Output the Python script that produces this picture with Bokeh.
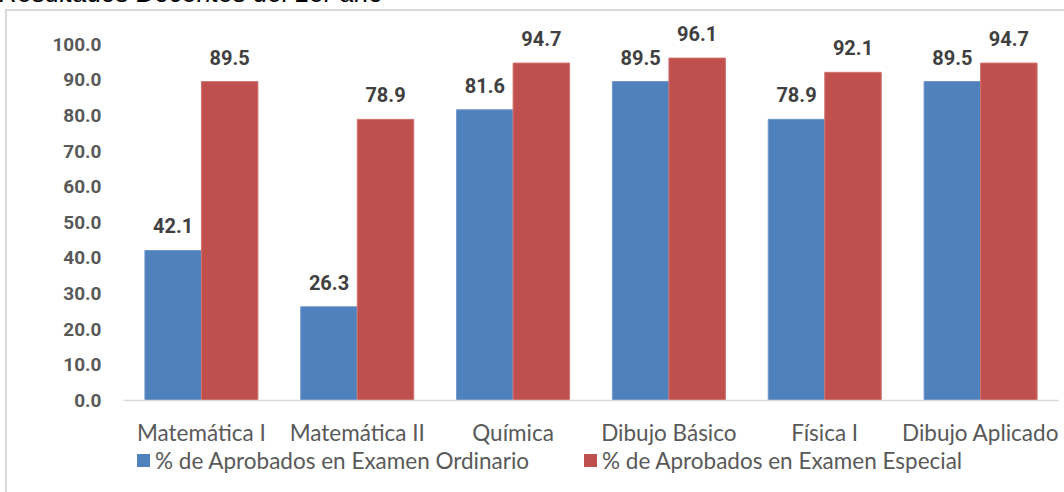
from bokeh.plotting import figure
from bokeh.layouts import column, row
from bokeh.models import (ColumnDataSource, Range1d, FactorRange,
                          FixedTicker, CustomJSTickFormatter, Div, Spacer)
from bokeh.transform import dodge
from bokeh.core.properties import value
from bokeh.embed import file_html
from bokeh.resources import INLINE

categories = ["Matemática I", "Matemática II", "Química", "Dibujo Básico", "Física I", "Dibujo Aplicado"]
ordinario = [42.1, 26.3, 81.6, 89.5, 78.9, 89.5]
especial = [89.5, 78.9, 94.7, 96.1, 92.1, 94.7]
y_ticks = [0, 10, 20, 30, 40, 50, 60, 70, 80, 90, 100]
series_names = ["% de Aprobados en Examen Ordinario", "% de Aprobados en Examen Especial"]
title_text = "Resultados Docentes del 1er año"

BLUE = "#4F81BD"
RED = "#C0504D"
BLUE_EDGE = "#7096cc"
RED_EDGE = "#d07471"
BORDER = "#d9d9d9"

src = ColumnDataSource(dict(
    cat=categories,
    ordinario=ordinario,
    especial=especial,
    ord_lbl=[f"{v:.1f}" for v in ordinario],
    esp_lbl=[f"{v:.1f}" for v in especial],
))

PAGE_W, PAGE_H = 1064, 492
TITLE_H = 9
LINE = 2
FIG_X = 5 + LINE
FIG_Y = TITLE_H + LINE
LEG_TOP = 448
W = PAGE_W - FIG_X
H = LEG_TOP - FIG_Y
LEG_H = PAGE_H - LEG_TOP
left = 123 - FIG_X
top = 14 - FIG_Y
bottom = LEG_TOP - 404
right = 6
frame_h = H - top - bottom
px_per_unit = 3.6

p = figure(width=W, height=H, output_backend="svg", toolbar_location=None,
           x_range=FactorRange(factors=categories, range_padding=0),
           y_range=Range1d(0, frame_h / px_per_unit),
           min_border_left=left, min_border_right=right,
           min_border_top=top, min_border_bottom=bottom,
           background_fill_color="white", border_fill_color="white", margin=0)
p.outline_line_color = None
p.grid.grid_line_color = None

bw = 0.3626
p.vbar(x=dodge("cat", -bw / 2, range=p.x_range), top="ordinario", width=bw, source=src,
       fill_color=BLUE, line_color=BLUE_EDGE, line_width=1)
p.vbar(x=dodge("cat", bw / 2, range=p.x_range), top="especial", width=bw, source=src,
       fill_color=RED, line_color=RED_EDGE, line_width=1)

lbl_font = value("Roboto")
p.text(x=dodge("cat", -bw / 2, range=p.x_range), y="ordinario", text="ord_lbl", source=src,
       text_font=lbl_font, text_font_style="bold", text_font_size="20px",
       text_color="#404040", text_align="center", text_baseline="bottom", y_offset=-17)
p.text(x=dodge("cat", bw / 2, range=p.x_range), y="especial", text="esp_lbl", source=src,
       text_font=lbl_font, text_font_style="bold", text_font_size="20px",
       text_color="#404040", text_align="center", text_baseline="bottom", y_offset=-17)

# y axis
p.yaxis.ticker = FixedTicker(ticks=y_ticks)
p.yaxis.formatter = CustomJSTickFormatter(code="return tick.toFixed(1);")
p.yaxis.axis_line_color = None
p.yaxis.major_tick_line_color = None
p.yaxis.minor_tick_line_color = None
p.yaxis.major_label_standoff = 16
p.yaxis.major_label_text_font = "Roboto"
p.yaxis.major_label_text_font_style = "bold"
p.yaxis.major_label_text_font_size = "19px"
p.yaxis.major_label_text_color = "#595959"

# x axis
p.xaxis.axis_line_color = BORDER
p.xaxis.axis_line_width = 1.5
p.xaxis.major_tick_line_color = None
p.xaxis.minor_tick_line_color = None
p.xaxis.major_label_standoff = 12
p.xaxis.major_label_text_font = "Lato"
p.xaxis.major_label_text_font_size = "22.5px"
p.xaxis.major_label_text_color = "#595959"

# legend strip (HTML, under the chart)
def legend_item(x, color, label):
    return (f'<div style="position:absolute;left:{x}px;top:6px;width:13px;height:13px;'
            f'background:{color};"></div>'
            f'<div style="position:absolute;left:{x + 18}px;top:-1px;line-height:27px;'
            f'white-space:nowrap;">{label}</div>')

legend_div = Div(
    text=('<div style="position:relative;width:%dpx;height:%dpx;font-family:Lato;'
          'font-size:22.5px;color:#595959;">' % (W, LEG_H)
          + legend_item(137 - FIG_X, BLUE, series_names[0])
          + legend_item(584 - FIG_X, RED, series_names[1])
          + '</div>'),
    width=W, height=LEG_H, margin=0, styles={"overflow": "hidden"})

# title strip, cut at the top edge of the page
title_div = Div(
    text=('<div style="position:relative;top:-20px;left:-1px;font-family:\'Liberation Sans\';'
          'font-style:italic;font-size:26px;line-height:26px;white-space:nowrap;color:black;">'
          + title_text + '</div>'),
    width=PAGE_W, height=TITLE_H, margin=0, styles={"overflow": "hidden"})

top_line = row(Spacer(width=5, height=LINE, margin=0),
               Spacer(width=PAGE_W - 5, height=LINE, background=BORDER, margin=0))
body = row(Spacer(width=5, height=H + LEG_H, margin=0),
           Spacer(width=LINE, height=H + LEG_H, background=BORDER, margin=0),
           column(p, legend_div))
layout = column(title_div, top_line, body)

open("out.html", "w").write(file_html(layout, INLINE))
